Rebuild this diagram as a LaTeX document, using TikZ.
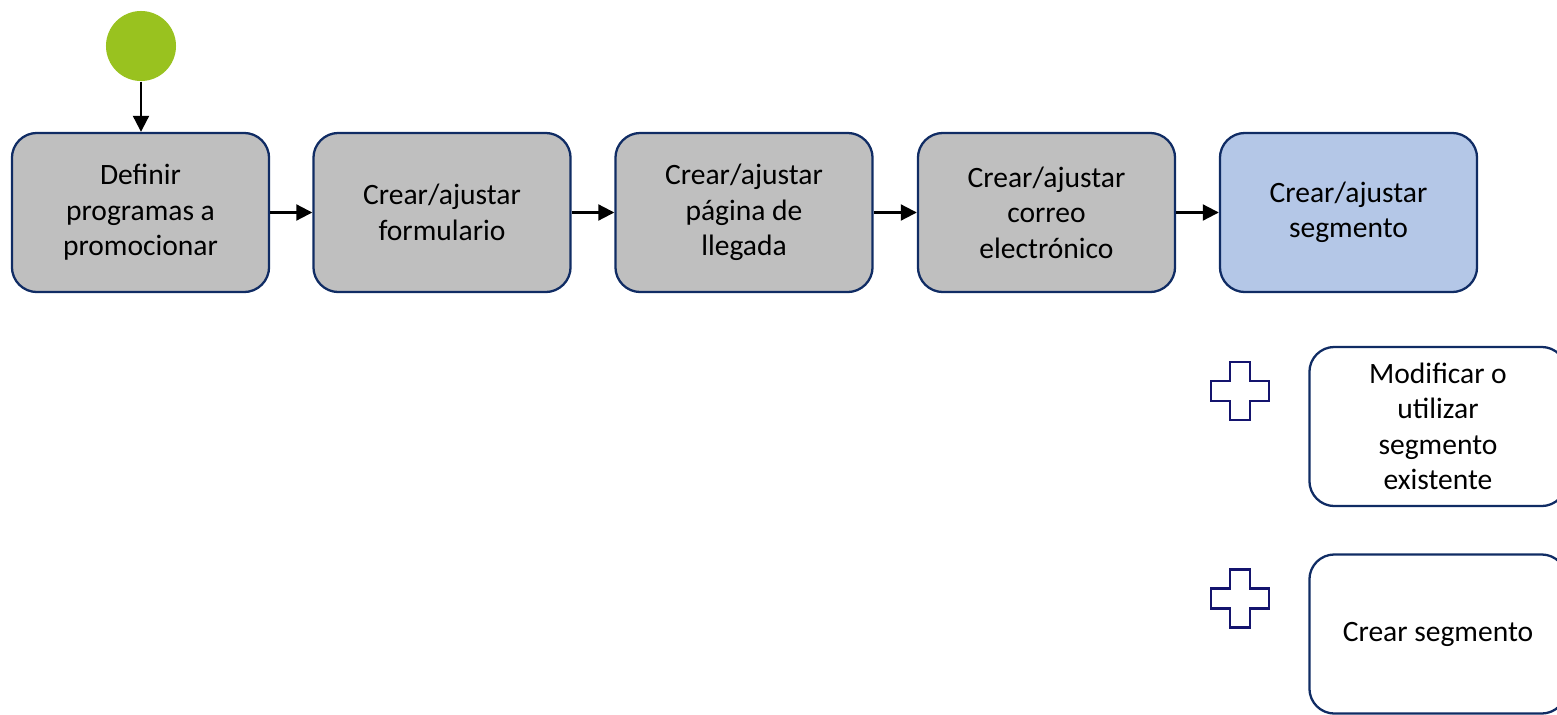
\documentclass[tikz,border=0pt]{standalone}
\usepackage{fontspec}
\setmainfont{Carlito}
\usetikzlibrary{arrows.meta}
\definecolor{bord}{RGB}{16,44,100}
\definecolor{boxgray}{RGB}{191,191,191}
\definecolor{boxblue}{RGB}{180,199,231}
\definecolor{startgreen}{RGB}{153,194,31}
\definecolor{plusnavy}{RGB}{20,20,110}
\begin{document}
\begin{tikzpicture}[x=0.01cm,y=-0.01cm,
  proc/.style={draw=bord,line width=0.65pt,rounded corners=0.25cm,minimum width=2.57cm,minimum height=1.59cm,align=center,inner sep=0pt,font=\fontsize{8.4}{10.1}\selectfont},
  grayproc/.style={proc,fill=boxgray},
  blueproc/.style={proc,fill=boxblue},
  whiteproc/.style={proc,fill=white},
  arr/.style={line width=0.6pt,-{Triangle[length=0.16cm,width=0.16cm]}},
  plusshape/.style={draw=plusnavy,line width=0.6pt,fill=white}]
\useasboundingbox (0,0) rectangle (1557,715);
\clip (0,0) rectangle (1557,715);
\node[circle,fill=startgreen,minimum size=0.70cm,inner sep=0pt] (c) at (141,46) {};
\node[grayproc] (b1) at (140.5,212.5) {Definir\\programas a\\promocionar};
\node[grayproc] (b2) at (442,212.5) {Crear/ajustar\\formulario};
\node[grayproc] (b3) at (744,212.5) {Crear/ajustar\\página de\\llegada};
\node[grayproc] (b4) at (1046.5,212.5) {Crear/ajustar\\correo\\electrónico};
\node[blueproc] (b5) at (1348.5,212.5) {Crear/ajustar\\segmento};
\node[whiteproc] (b6) at (1438,426.5) {Modificar o\\utilizar\\segmento\\existente};
\node[whiteproc] (b7) at (1438,634) {Crear segmento};
\draw[arr] (c) -- (c |- b1.north);
\draw[arr] (b1) -- (b2);
\draw[arr] (b2) -- (b3);
\draw[arr] (b3) -- (b4);
\draw[arr] (b4) -- (b5);
\foreach \cy in {391,598.5}{
  \draw[plusshape,shift={(1240,\cy)}] (-10,-29) -- (10,-29) -- (10,-10) -- (29,-10) -- (29,10) -- (10,10) -- (10,29) -- (-10,29) -- (-10,10) -- (-29,10) -- (-29,-10) -- (-10,-10) -- cycle;
}
\end{tikzpicture}
\end{document}
